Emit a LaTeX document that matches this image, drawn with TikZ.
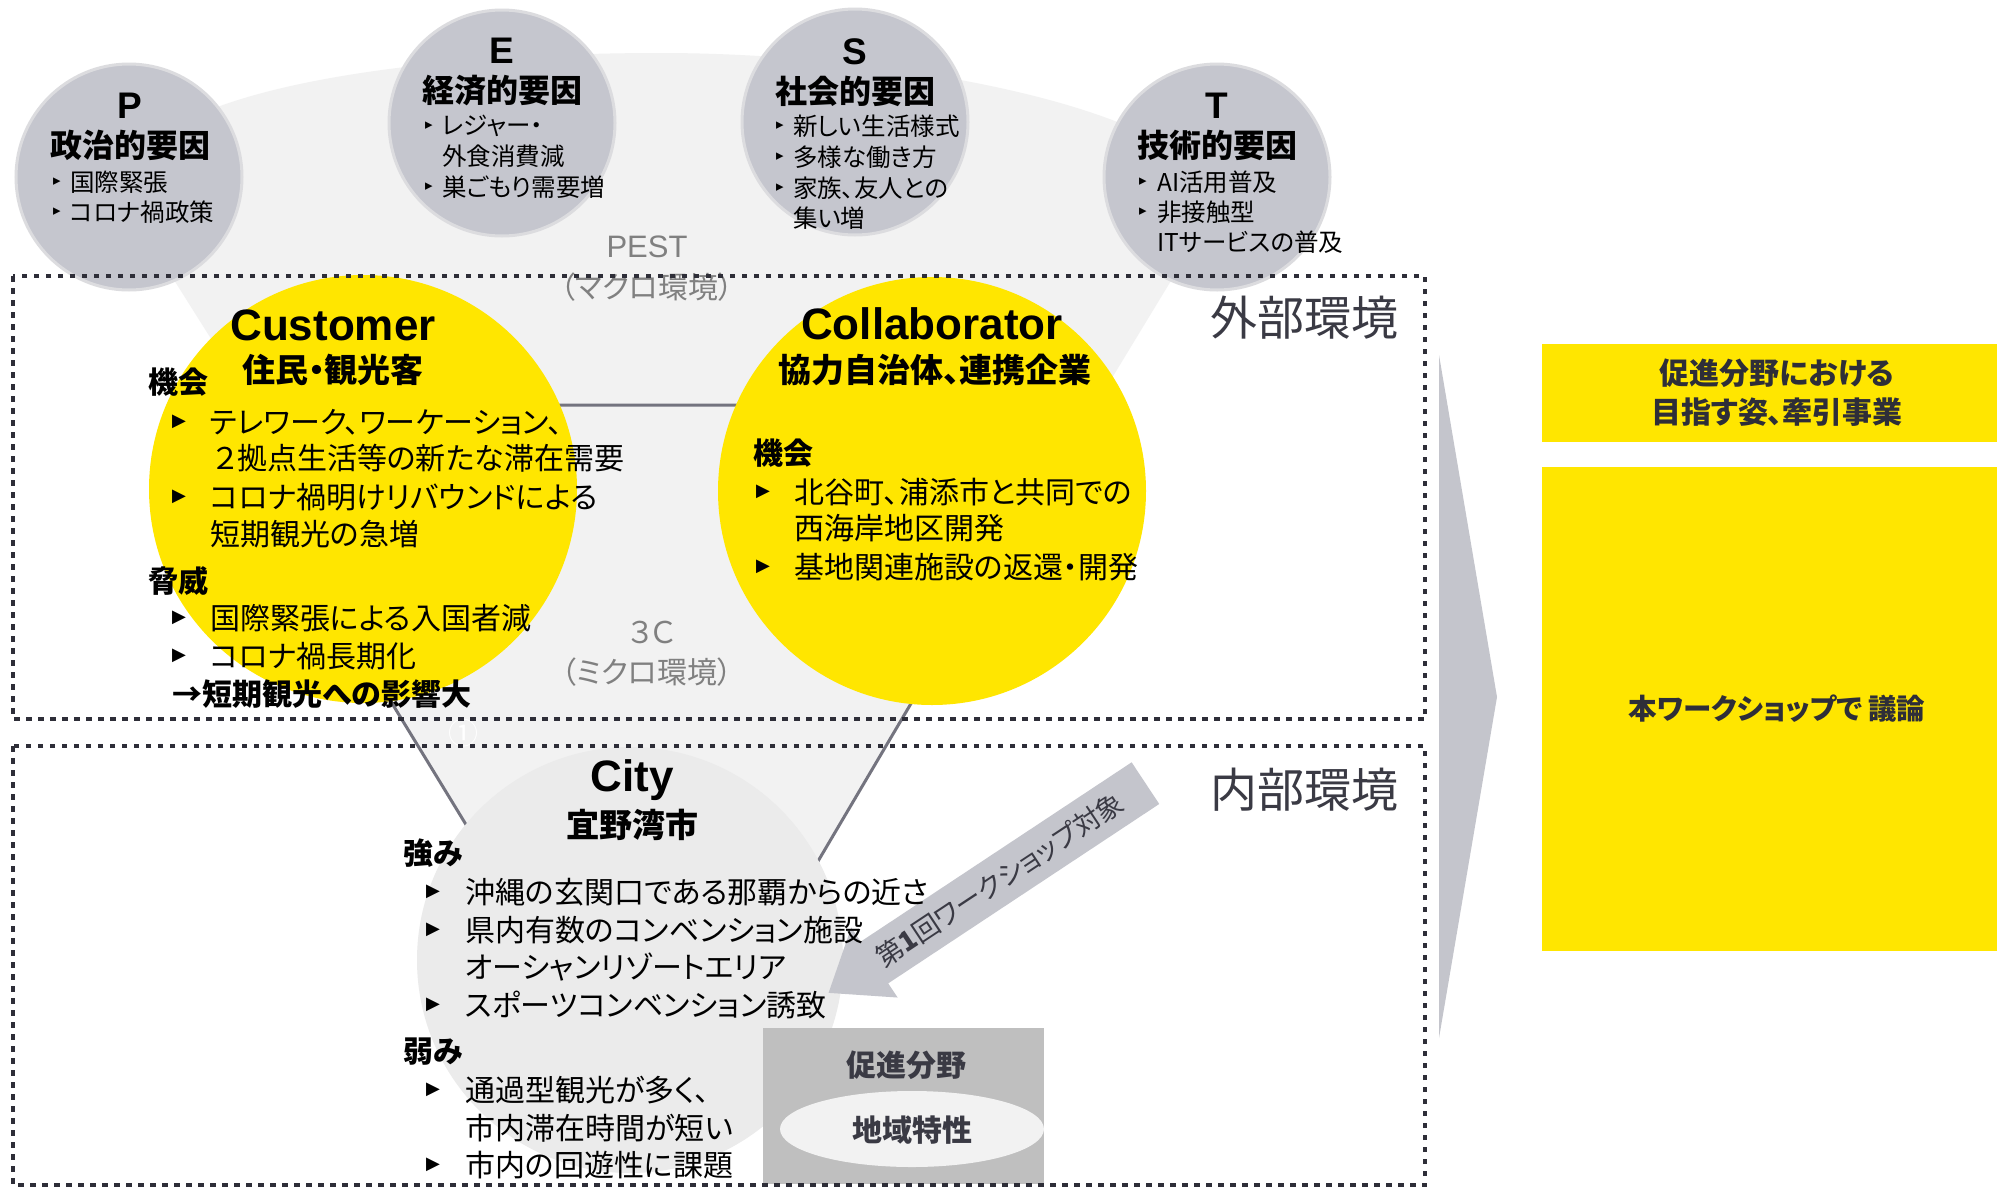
\documentclass[tikz,border=0pt]{standalone}
\usepackage{fontspec}
\setmainfont{Noto Sans CJK JP}[RawFeature=+palt]
\newfontfamily\lat{Liberation Sans}
\newfontfamily\sym{DejaVu Sans}
\usetikzlibrary{shapes.geometric}
\newcommand{\myfs}[1]{\fontsize{#1}{#1}\selectfont}
\definecolor{eyyellow}{HTML}{FFE600}
\definecolor{bglight}{HTML}{F2F2F2}
\definecolor{citygray}{HTML}{EBEBEB}
\definecolor{pestgray}{HTML}{C5C6CE}
\definecolor{pestrim}{HTML}{DCDCDF}
\definecolor{linegray}{HTML}{74747F}
\definecolor{dotcol}{HTML}{2E2E38}
\definecolor{arrowgray}{HTML}{C4C5CC}
\definecolor{boxgray}{HTML}{BFBFBF}
\definecolor{labelgray}{HTML}{808080}
\definecolor{darktext}{HTML}{2E2E38}
\definecolor{envtext}{HTML}{3A3A44}
\begin{document}
\begin{tikzpicture}[x=1pt,y=-1pt,
  pestc/.style={circle,fill=pestgray,draw=pestrim,line width=3pt,minimum size=226pt,inner sep=0pt},
  ycirc/.style={circle,fill=eyyellow,minimum size=428pt,inner sep=0pt},
  letter/.style={font=\lat\bfseries\myfs{37},inner sep=0pt},
  ptitle/.style={font=\bfseries\myfs{32},inner sep=0pt},
  pbul/.style={font=\sym\myfs{15},inner sep=0pt},
  ptxt/.style={anchor=west,font=\myfs{24.5},inner sep=0pt},
  ctitle/.style={font=\lat\bfseries\myfs{44},inner sep=0pt},
  csub/.style={font=\bfseries\myfs{33},inner sep=0pt},
  chead/.style={anchor=west,font=\bfseries\myfs{30},inner sep=0pt},
  cbul/.style={font=\sym\myfs{18},inner sep=0pt},
  ctxt/.style={anchor=west,font=\myfs{30},inner sep=0pt},
  glabel/.style={font=\myfs{30},text=labelgray,inner sep=0pt},
  envlabel/.style={font=\myfs{47},text=envtext,inner sep=0pt},
  dotline/.style={draw=dotcol,line width=4.5pt,dash pattern=on 5.5pt off 6.5pt},
  boxtxt/.style={font=\bfseries\myfs{30},text=envtext,inner sep=0pt}
]
\useasboundingbox (0,0) rectangle (1997,1189);
\fill[white] (0,0) rectangle (1997,1189);

% PEST cone background
\fill[bglight] (140,226) .. controls (60,100) and (380,53) .. (660,53)
  .. controls (940,53) and (1280,130) .. (1200,233) -- (1050,480) -- (656,1000) -- (300,480) -- cycle;

% 3C triangle
\coordinate (tL) at (210,405);
\coordinate (tR) at (1087,405);
\coordinate (tB) at (656,1136);
\filldraw[fill=bglight,draw=linegray,line width=3pt] (tL) -- (tR) -- (tB) -- cycle;

% PEST circles
\node[pestc] (Pc) at (129,177) {};
\node[pestc] (Ec) at (502,123) {};
\node[pestc] (Sc) at (855,122) {};
\node[pestc] (Tc) at (1217,177) {};

% 3C circles
\node[ycirc] (cust) at (363,489) {};
\node[ycirc] (coll) at (932,491) {};
\node[circle,fill=citygray,minimum size=426pt,inner sep=0pt] (city) at (630,960) {};

% promotion box
\node[rectangle,fill=boxgray,minimum width=281pt,minimum height=156pt,inner sep=0pt,anchor=north west] (promo) at (763,1028) {};
\node[ellipse,fill=bglight,minimum width=264pt,minimum height=76pt,inner sep=0pt] (region) at (912,1129) {};
\node[boxtxt] (promotxt) at (906,1065) {促進分野};
\node[boxtxt] (regiontxt) at (912,1130) {地域特性};

% workshop arrow
\begin{scope}[shift={(987,888)},rotate=33.5]
  \fill[arrowgray] (190,25) -- (190,-25) -- (-135,-25) -- (-135,-42) -- (-190,0) -- (-135,42) -- (-135,25) -- cycle;
  \node[transform shape,font=\myfs{27},text=envtext,inner sep=0pt] (wstxt) at (15,0) {第\textbf{1}回ワークショップ対象};
\end{scope}

% big chevron and right boxes
\fill[arrowgray] (1439,355) -- (1497,697) -- (1439,1038) -- cycle;
\node[fill=eyyellow,minimum width=455pt,minimum height=98pt,inner sep=0pt,anchor=north west] (goal) at (1542,344) {};
\node[fill=eyyellow,minimum width=455pt,minimum height=484pt,inner sep=0pt,anchor=north west] (disc) at (1542,467) {};
\node[font=\bfseries\fontsize{30}{39}\selectfont,text=darktext,align=center,inner sep=0pt] (goaltxt) at (1777,393) {促進分野における\\目指す姿、牽引事業};
\node[font=\bfseries\myfs{28.5},text=darktext,inner sep=0pt] (disctxt) at (1777,709) {本ワークショップで\hspace{6pt}議論};

% PEST texts
\node[letter] (pL) at (130,106) {P};
\node[ptitle] (pT) at (130,145) {政治的要因};
\node[pbul] (pb1) at (57,182) {▸};
\node[ptxt] (p1) at (70,182) {国際緊張};
\node[pbul] (pb2) at (57,212) {▸};
\node[ptxt] (p2) at (70,212) {コロナ禍政策};

\node[letter] (eL) at (502,51) {E};
\node[ptitle] (eT) at (502,91) {経済的要因};
\node[pbul] (eb1) at (429,126) {▸};
\node[ptxt] (e1) at (442,126) {レジャー・};
\node[ptxt] (e2) at (442,156) {外食消費減};
\node[pbul] (eb3) at (429,187) {▸};
\node[ptxt] (e3) at (442,187) {巣ごもり需要増};

\node[letter] (sL) at (855,52) {S};
\node[ptitle] (sT) at (855,91) {社会的要因};
\node[pbul] (sb1) at (780,126) {▸};
\node[ptxt] (s1) at (793,126) {新しい生活様式};
\node[pbul] (sb2) at (780,157) {▸};
\node[ptxt] (s2) at (793,157) {多様な働き方};
\node[pbul] (sb3) at (780,188) {▸};
\node[ptxt] (s3) at (793,188) {家族、友人との};
\node[ptxt] (s4) at (793,218) {集い増};

\node[letter] (tLt) at (1217,106) {T};
\node[ptitle] (tT) at (1217,145) {技術的要因};
\node[pbul] (tb1) at (1143,182) {▸};
\node[ptxt] (t1) at (1157,182) {AI活用普及};
\node[pbul] (tb2) at (1143,212) {▸};
\node[ptxt] (t2) at (1157,212) {非接触型};
\node[ptxt] (t3) at (1157,242) {ITサービスの普及};

\node[font=\lat\myfs{31},text=labelgray,inner sep=0pt] (pest) at (647,247) {PEST};
\node[glabel] (macro) at (647,287) {（マクロ環境）};
\node[glabel] (threec) at (652,632) {３Ｃ};
\node[glabel] (micro) at (647,672) {（ミクロ環境）};
\node[font=\myfs{30},text=white,inner sep=0pt] (one) at (463,733) {①};

% Customer
\node[ctitle] (custT) at (333,325) {Customer};
\node[csub] (custS) at (333,370) {住民・観光客};
\node[chead] (custO) at (148,382) {機会};
\node[cbul] (cb1) at (179,422) {▶};
\node[ctxt] (c1) at (210,422) {テレワーク、ワーケーション、};
\node[ctxt] (c2) at (214,458) {２拠点生活等の新たな滞在需要};
\node[cbul] (cb3) at (179,497) {▶};
\node[ctxt] (c3) at (210,497) {コロナ禍明けリバウンドによる};
\node[ctxt] (c4) at (210,534) {短期観光の急増};
\node[chead] (custTh) at (148,581) {脅威};
\node[cbul] (cb5) at (179,618) {▶};
\node[ctxt] (c5) at (210,618) {国際緊張による入国者減};
\node[cbul] (cb6) at (179,656) {▶};
\node[ctxt] (c6) at (210,656) {コロナ禍長期化};
\node[anchor=west,font=\bfseries\myfs{30},inner sep=0pt] (c7) at (172,694) {→短期観光への影響大};

% Collaborator
\node[ctitle] (collT) at (932,324) {Collaborator};
\node[csub] (collS) at (935,370) {協力自治体、連携企業};
\node[chead] (collO) at (753,453) {機会};
\node[cbul] (kb1) at (763,492) {▶};
\node[ctxt] (k1) at (794,492) {北谷町、浦添市と共同での};
\node[ctxt] (k2) at (794,528) {西海岸地区開発};
\node[cbul] (kb3) at (763,567) {▶};
\node[ctxt] (k3) at (794,567) {基地関連施設の返還・開発};

% City
\node[ctitle] (cityT) at (632,780) {City};
\node[csub] (cityS) at (632,825) {宜野湾市};
\node[chead] (cityO) at (403,853) {強み};
\node[cbul] (yb1) at (433,892) {▶};
\node[ctxt] (y1) at (465,892) {沖縄の玄関口である那覇からの近さ};
\node[cbul] (yb2) at (433,930) {▶};
\node[ctxt] (y2) at (465,930) {県内有数のコンベンション施設};
\node[ctxt] (y3) at (465,967) {オーシャンリゾートエリア};
\node[cbul] (yb4) at (433,1005) {▶};
\node[ctxt] (y4) at (465,1005) {スポーツコンベンション誘致};
\node[chead] (cityW) at (403,1052) {弱み};
\node[cbul] (yb5) at (433,1090) {▶};
\node[ctxt] (y5) at (465,1090) {通過型観光が多く、};
\node[ctxt] (y6) at (465,1128) {市内滞在時間が短い};
\node[cbul] (yb7) at (433,1165) {▶};
\node[ctxt] (y7) at (465,1165) {市内の回遊性に課題};

% environment labels
\node[envlabel] (ext) at (1304,318) {外部環境};
\node[envlabel] (int) at (1304,790) {内部環境};

% dotted boxes
\draw[dotline] (13,276) rectangle (1425,719);
\draw[dotline] (13,746) rectangle (1425,1185);
\end{tikzpicture}
\end{document}
